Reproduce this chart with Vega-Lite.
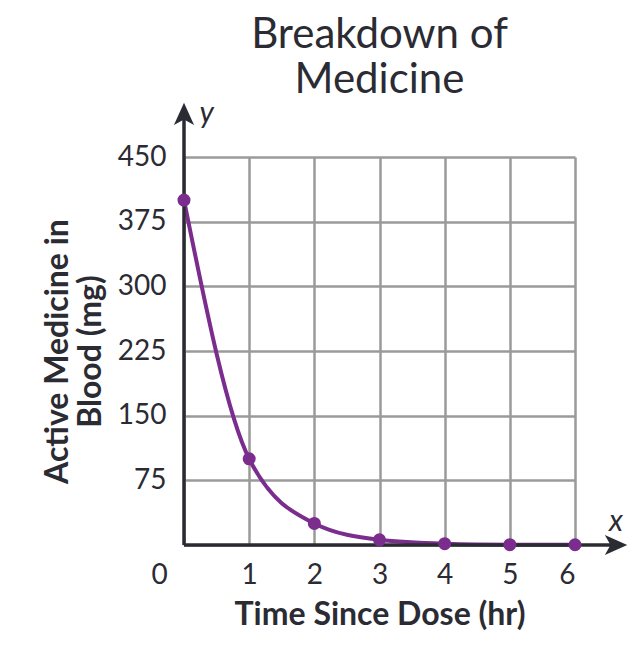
{
  "$schema": "https://vega.github.io/schema/vega-lite/v6.json",
  "autosize": "none",
  "width": 391,
  "height": 388,
  "padding": {"left": 184, "top": 157, "right": 67, "bottom": 107},
  "background": "white",
  "config": {"view": {"stroke": null}, "font": "Lato"},
  "title": {
    "text": ["Breakdown of", "Medicine"],
    "fontSize": 42,
    "fontWeight": "normal",
    "font": "Lato",
    "color": "#2b2b33",
    "lineHeight": 45,
    "anchor": "middle",
    "offset": -3
  },
  "datasets": {
    "medicine": [
      {"t": 0, "mg": 400},
      {"t": 1, "mg": 100},
      {"t": 2, "mg": 25},
      {"t": 3, "mg": 6},
      {"t": 4, "mg": 1.5},
      {"t": 5, "mg": 0.4},
      {"t": 6, "mg": 0.3}
    ],
    "axes": [
      {"axis": "x", "t": 0, "t2": 6.6, "mg": 0, "mg2": 0},
      {"axis": "y", "t": 0, "t2": 0, "mg": 0, "mg2": 495}
    ],
    "arrows": [
      {"axis": "x", "t": 6.63, "mg": 0, "label": "x", "lt": 6.63, "lmg": 16},
      {"axis": "y", "t": 0, "mg": 500, "label": "y", "lt": 0.35, "lmg": 490}
    ]
  },
  "layer": [
    {
      "data": {"name": "medicine"},
      "mark": {"type": "line", "interpolate": "monotone", "color": "#7b2d8e", "strokeWidth": 4, "clip": false},
      "encoding": {
        "x": {
          "field": "t", "type": "quantitative",
          "scale": {"domain": [0, 6], "nice": false},
          "axis": {
            "values": [0, 1, 2, 3, 4, 5, 6],
            "format": "d",
            "domain": false, "ticks": false,
            "grid": true, "gridColor": "#9a9a9a", "gridWidth": 2.5,
            "labelFontSize": 28, "labelColor": "#2b2b33", "labelFont": "Lato",
            "labelPadding": 16,
            "labelOffset": {"condition": {"test": "datum.value === 0", "value": -33}, "value": 0},
            "title": "Time Since Dose (hr)",
            "titleFontSize": 32, "titleFontWeight": "bold", "titleColor": "#2b2b33", "titleFont": "Lato",
            "titlePadding": 10
          }
        },
        "y": {
          "field": "mg", "type": "quantitative",
          "scale": {"domain": [0, 450], "nice": false},
          "axis": {
            "values": [0, 75, 150, 225, 300, 375, 450],
            "format": "d",
            "domain": false, "ticks": false,
            "grid": true, "gridColor": "#9a9a9a", "gridWidth": 2.5,
            "labelFontSize": 28, "labelColor": "#2b2b33", "labelFont": "Lato",
            "labelPadding": 18,
            "labelExpr": "datum.value === 0 ? '' : datum.label",
            "title": ["Active Medicine in", "Blood (mg)"],
            "titleFontSize": 32, "titleFontWeight": "bold", "titleColor": "#2b2b33", "titleFont": "Lato",
            "titleLineHeight": 33,
            "titlePadding": 10
          }
        }
      }
    },
    {
      "data": {"name": "axes"},
      "mark": {"type": "rule", "color": "#2b2b33", "strokeWidth": 3.5, "clip": false},
      "encoding": {
        "x": {"field": "t", "type": "quantitative"},
        "x2": {"field": "t2"},
        "y": {"field": "mg", "type": "quantitative"},
        "y2": {"field": "mg2"}
      }
    },
    {
      "data": {"name": "medicine"},
      "mark": {"type": "point", "filled": true, "opacity": 1, "color": "#7b2d8e", "size": 170, "clip": false},
      "encoding": {
        "x": {"field": "t", "type": "quantitative"},
        "y": {"field": "mg", "type": "quantitative"}
      }
    },
    {
      "data": {"name": "arrows"},
      "mark": {"type": "point", "filled": true, "opacity": 1, "color": "#2b2b33", "size": 500, "clip": false},
      "encoding": {
        "x": {"field": "t", "type": "quantitative"},
        "y": {"field": "mg", "type": "quantitative"},
        "shape": {
          "field": "axis", "type": "nominal",
          "scale": {"domain": ["x", "y"], "range": ["M-1,-0.9L1,0L-1,0.9L-0.5,0Z", "M-0.9,1L0,-1L0.9,1L0,0.5Z"]},
          "legend": null
        }
      }
    },
    {
      "data": {"name": "arrows"},
      "mark": {"type": "text", "font": "Lato", "fontSize": 30, "fontStyle": "italic", "color": "#2b2b33", "baseline": "alphabetic", "align": "center", "clip": false},
      "encoding": {
        "x": {"field": "lt", "type": "quantitative"},
        "y": {"field": "lmg", "type": "quantitative"},
        "text": {"field": "label"}
      }
    }
  ]
}
